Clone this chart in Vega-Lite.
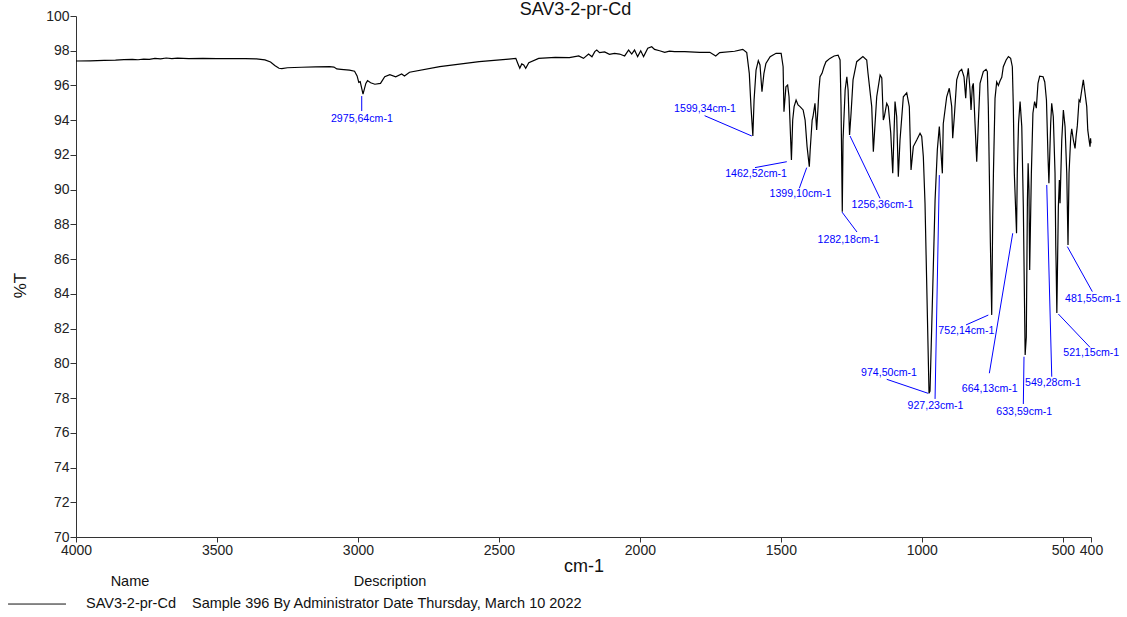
{
  "$schema": "https://vega.github.io/schema/vega-lite/v6.json",
  "width": 1015,
  "height": 521,
  "autosize": {"type": "none"},
  "padding": {"left": 76, "top": 16, "right": 36, "bottom": 80},
  "background": "white",
  "config": {
    "view": {"stroke": null},
    "font": "Liberation Sans",
    "axis": {"grid": false, "domainColor": "#333", "tickColor": "#333", "labelColor": "#222", "titleColor": "#111", "labelFont": "Liberation Sans", "titleFont": "Liberation Sans", "titleFontWeight": "normal", "labelFlush": false, "labelOverlap": false, "labelSeparation": 0},
    "axisX": {"format": "d", "labelFontSize": 14, "titleFontSize": 18, "tickSize": 5, "labelPadding": 1, "titlePadding": 0},
    "axisY": {"format": "d", "labelFontSize": 14, "titleFontSize": 17, "tickSize": 6, "labelPadding": 1, "titleX": -56, "titleY": 269, "titleBaseline": "middle", "titleAngle": -90}
  },
  "title": {"text": "SAV3-2-pr-Cd", "frame": "group", "anchor": "middle", "dx": -8, "dy": 25, "fontSize": 18, "fontWeight": "normal", "font": "Liberation Sans", "color": "#111", "offset": 1, "baseline": "alphabetic"},
  "datasets": {
    "spectrum": [
      {"wn":4000,"t":97.41},{"wn":3950,"t":97.42},{"wn":3900,"t":97.44},{"wn":3860,"t":97.46},{"wn":3830,"t":97.49},{"wn":3800,"t":97.5},{"wn":3780,"t":97.48},{"wn":3760,"t":97.52},{"wn":3740,"t":97.5},{"wn":3720,"t":97.56},{"wn":3700,"t":97.53},{"wn":3680,"t":97.58},{"wn":3660,"t":97.55},{"wn":3640,"t":97.57},{"wn":3600,"t":97.55},{"wn":3550,"t":97.56},{"wn":3500,"t":97.55},{"wn":3450,"t":97.55},{"wn":3400,"t":97.54},{"wn":3360,"t":97.53},{"wn":3330,"t":97.47},{"wn":3310,"t":97.35},{"wn":3295,"t":97.15},{"wn":3280,"t":96.99},{"wn":3270,"t":96.97},{"wn":3250,"t":97.02},{"wn":3200,"t":97.05},{"wn":3150,"t":97.07},{"wn":3100,"t":97.08},{"wn":3085,"t":97.06},{"wn":3075,"t":96.95},{"wn":3060,"t":96.93},{"wn":3030,"t":96.88},{"wn":3012,"t":96.82},{"wn":3003,"t":96.55},{"wn":2997,"t":96.18},{"wn":2992,"t":96.22},{"wn":2982,"t":95.5},{"wn":2972,"t":96.12},{"wn":2966,"t":96.28},{"wn":2955,"t":96.16},{"wn":2940,"t":96.07},{"wn":2920,"t":96.12},{"wn":2905,"t":96.5},{"wn":2887,"t":96.62},{"wn":2866,"t":96.5},{"wn":2845,"t":96.66},{"wn":2835,"t":96.55},{"wn":2817,"t":96.76},{"wn":2710,"t":97.08},{"wn":2570,"t":97.37},{"wn":2465,"t":97.52},{"wn":2440,"t":97.56},{"wn":2433,"t":97.27},{"wn":2426,"t":96.99},{"wn":2419,"t":97.24},{"wn":2412,"t":97.18},{"wn":2405,"t":96.99},{"wn":2394,"t":97.31},{"wn":2359,"t":97.56},{"wn":2300,"t":97.62},{"wn":2250,"t":97.6},{"wn":2217,"t":97.7},{"wn":2200,"t":97.56},{"wn":2182,"t":97.81},{"wn":2170,"t":97.65},{"wn":2160,"t":97.95},{"wn":2153,"t":98.04},{"wn":2143,"t":97.89},{"wn":2125,"t":97.93},{"wn":2108,"t":97.79},{"wn":2090,"t":97.85},{"wn":2072,"t":97.81},{"wn":2054,"t":97.7},{"wn":2040,"t":98.04},{"wn":2029,"t":97.81},{"wn":2019,"t":98.04},{"wn":2008,"t":97.66},{"wn":1997,"t":98.0},{"wn":1987,"t":97.66},{"wn":1972,"t":98.14},{"wn":1958,"t":98.23},{"wn":1948,"t":98.08},{"wn":1930,"t":98.0},{"wn":1912,"t":97.91},{"wn":1895,"t":97.98},{"wn":1877,"t":97.95},{"wn":1841,"t":97.95},{"wn":1788,"t":97.91},{"wn":1752,"t":97.91},{"wn":1731,"t":97.7},{"wn":1717,"t":97.89},{"wn":1664,"t":97.97},{"wn":1635,"t":98.08},{"wn":1621,"t":97.89},{"wn":1612,"t":96.7},{"wn":1606,"t":94.78},{"wn":1599.34,"t":93.09},{"wn":1595,"t":95.16},{"wn":1588,"t":96.89},{"wn":1580,"t":97.43},{"wn":1574,"t":97.18},{"wn":1567,"t":95.64},{"wn":1560,"t":96.7},{"wn":1553,"t":97.27},{"wn":1538,"t":97.66},{"wn":1517,"t":97.85},{"wn":1499,"t":97.85},{"wn":1492,"t":97.08},{"wn":1489,"t":94.49},{"wn":1482,"t":95.93},{"wn":1476,"t":96.03},{"wn":1471,"t":95.35},{"wn":1462.52,"t":91.71},{"wn":1458,"t":94.01},{"wn":1453,"t":94.78},{"wn":1446,"t":95.16},{"wn":1439,"t":94.88},{"wn":1432,"t":94.78},{"wn":1421,"t":94.59},{"wn":1414,"t":94.01},{"wn":1407,"t":92.48},{"wn":1399.1,"t":91.32},{"wn":1396,"t":92.28},{"wn":1389,"t":94.01},{"wn":1386,"t":94.2},{"wn":1379,"t":94.97},{"wn":1373,"t":93.44},{"wn":1368,"t":94.78},{"wn":1365,"t":95.74},{"wn":1361,"t":96.5},{"wn":1354,"t":96.7},{"wn":1347,"t":97.08},{"wn":1340,"t":97.37},{"wn":1326,"t":97.56},{"wn":1311,"t":97.7},{"wn":1297,"t":97.75},{"wn":1290,"t":97.47},{"wn":1286.5,"t":94.78},{"wn":1282.18,"t":88.73},{"wn":1279.5,"t":92.86},{"wn":1272,"t":95.74},{"wn":1266,"t":96.5},{"wn":1261.5,"t":95.74},{"wn":1256.36,"t":93.15},{"wn":1251,"t":94.4},{"wn":1244,"t":96.32},{"wn":1231,"t":97.37},{"wn":1209,"t":97.66},{"wn":1195.5,"t":97.47},{"wn":1191,"t":96.72},{"wn":1177.7,"t":94.78},{"wn":1172,"t":92.19},{"wn":1160,"t":95.35},{"wn":1148,"t":96.6},{"wn":1142,"t":96.43},{"wn":1136.6,"t":94.01},{"wn":1133,"t":94.2},{"wn":1124.5,"t":94.97},{"wn":1118.8,"t":94.78},{"wn":1110.3,"t":93.27},{"wn":1103.2,"t":90.94},{"wn":1095.1,"t":95.07},{"wn":1089.1,"t":94.2},{"wn":1083.4,"t":90.75},{"wn":1077.4,"t":92.86},{"wn":1065.6,"t":95.35},{"wn":1053.6,"t":95.58},{"wn":1044.4,"t":94.78},{"wn":1038.3,"t":91.13},{"wn":1030.2,"t":92.48},{"wn":1018.1,"t":92.86},{"wn":1006.4,"t":93.25},{"wn":1000.4,"t":93.06},{"wn":994.7,"t":91.91},{"wn":988.7,"t":89.2},{"wn":974.5,"t":78.28},{"wn":971,"t":78.4},{"wn":953,"t":89.4},{"wn":945,"t":92.3},{"wn":938,"t":93.63},{"wn":927.23,"t":90.94},{"wn":924,"t":93.8},{"wn":911.8,"t":95.35},{"wn":902.6,"t":95.84},{"wn":894,"t":94.78},{"wn":890.5,"t":92.96},{"wn":884.8,"t":94.2},{"wn":876.3,"t":96.32},{"wn":867.1,"t":96.8},{"wn":858.6,"t":96.93},{"wn":850.4,"t":96.5},{"wn":844.4,"t":95.26},{"wn":840.8,"t":96.32},{"wn":835.1,"t":96.99},{"wn":829.1,"t":95.74},{"wn":825.5,"t":94.59},{"wn":820.9,"t":95.93},{"wn":817.4,"t":96.12},{"wn":811.4,"t":93.82},{"wn":805.3,"t":91.61},{"wn":799.7,"t":93.82},{"wn":793.6,"t":96.12},{"wn":781.9,"t":96.8},{"wn":772.3,"t":96.93},{"wn":767.7,"t":96.8},{"wn":764.2,"t":94.78},{"wn":760.6,"t":90.94},{"wn":757,"t":87.0},{"wn":752.14,"t":82.79},{"wn":748.5,"t":88.5},{"wn":746,"t":91.0},{"wn":740.4,"t":95.26},{"wn":734.5,"t":96.2},{"wn":728.5,"t":96.0},{"wn":722.5,"t":96.27},{"wn":716.5,"t":96.47},{"wn":711,"t":97.08},{"wn":701,"t":97.47},{"wn":693,"t":97.66},{"wn":685,"t":97.56},{"wn":679,"t":97.08},{"wn":675.5,"t":94.78},{"wn":672,"t":90.94},{"wn":664.13,"t":87.49},{"wn":661.5,"t":90.94},{"wn":657,"t":93.82},{"wn":651.5,"t":95.07},{"wn":645.5,"t":93.63},{"wn":640,"t":89.0},{"wn":633.59,"t":80.48},{"wn":629.5,"t":81.5},{"wn":625.5,"t":89.4},{"wn":623,"t":91.52},{"wn":620,"t":89.98},{"wn":617.5,"t":85.38},{"wn":611.5,"t":90.94},{"wn":606,"t":94.4},{"wn":600,"t":95.07},{"wn":594,"t":94.69},{"wn":588,"t":96.12},{"wn":582,"t":96.54},{"wn":570,"t":96.5},{"wn":564,"t":96.2},{"wn":558,"t":95.16},{"wn":552.5,"t":91.9},{"wn":549.28,"t":90.37},{"wn":543,"t":93.82},{"wn":539.4,"t":94.97},{"wn":533.7,"t":94.2},{"wn":527.6,"t":90.94},{"wn":525,"t":86.8},{"wn":523.5,"t":85.5},{"wn":521.15,"t":82.9},{"wn":515.8,"t":89.0},{"wn":512.2,"t":90.56},{"wn":509.8,"t":89.22},{"wn":503.7,"t":92.86},{"wn":498,"t":94.59},{"wn":492,"t":93.63},{"wn":486,"t":90.94},{"wn":481.55,"t":86.82},{"wn":477.9,"t":90.94},{"wn":471.9,"t":93.04},{"wn":468.3,"t":93.5},{"wn":462.6,"t":92.86},{"wn":456.6,"t":92.38},{"wn":453,"t":93.04},{"wn":448.4,"t":93.7},{"wn":442.4,"t":95.16},{"wn":438.8,"t":95.07},{"wn":432.8,"t":95.74},{"wn":427.2,"t":96.32},{"wn":421.1,"t":95.55},{"wn":415.1,"t":94.78},{"wn":411.5,"t":93.44},{"wn":406.9,"t":92.86},{"wn":403.4,"t":92.48},{"wn":401.5,"t":92.96},{"wn":400.2,"t":92.67}
    ],
    "peaks": [
      {"label":"2975,64cm-1","tx":2986,"ty":94.07,"sx":2986.6,"sy":94.53,"ex":2986.6,"ey":95.39},
      {"label":"1599,34cm-1","tx":1769,"ty":94.63,"sx":1770.5,"sy":94.26,"ex":1603,"ey":93.09},
      {"label":"1462,52cm-1","tx":1588,"ty":90.88,"sx":1591.8,"sy":91.27,"ex":1479,"ey":91.61},
      {"label":"1399,10cm-1","tx":1430.3,"ty":89.73,"sx":1434.5,"sy":90.08,"ex":1408.3,"ey":91.27},
      {"label":"1256,36cm-1","tx":1139.4,"ty":89.12,"sx":1148.3,"sy":89.5,"ex":1254.7,"ey":93.09},
      {"label":"1282,18cm-1","tx":1260,"ty":87.1,"sx":1229.9,"sy":87.56,"ex":1283.1,"ey":88.71},
      {"label":"974,50cm-1","tx":1116.4,"ty":79.43,"sx":1124.5,"sy":79.08,"ex":977,"ey":78.27},
      {"label":"927,23cm-1","tx":951.4,"ty":77.56,"sx":953.1,"sy":77.95,"ex":937.9,"ey":90.84},
      {"label":"752,14cm-1","tx":842.2,"ty":81.86,"sx":843.3,"sy":82.21,"ex":764.2,"ey":82.78},
      {"label":"664,13cm-1","tx":759.2,"ty":78.5,"sx":760.6,"sy":79.43,"ex":677.6,"ey":87.49},
      {"label":"633,59cm-1","tx":636.8,"ty":77.22,"sx":640,"sy":77.66,"ex":637.6,"ey":80.38},
      {"label":"549,28cm-1","tx":534.7,"ty":78.85,"sx":539.2,"sy":79.23,"ex":557,"ey":90.27},
      {"label":"521,15cm-1","tx":399.2,"ty":80.58,"sx":403.4,"sy":80.92,"ex":515.8,"ey":82.84},
      {"label":"481,55cm-1","tx":392.8,"ty":83.7,"sx":395.3,"sy":84.13,"ex":483.9,"ey":86.72}
    ],
    "footer": [
      {"text":"Name","x":3808.5,"y":67.4,"align":"center"},
      {"text":"Description","x":2886.3,"y":67.4,"align":"center"},
      {"text":"SAV3-2-pr-Cd","x":3805,"y":66.14,"align":"center"},
      {"text":"Sample 396 By Administrator Date Thursday, March 10 2022","x":3588.6,"y":66.14,"align":"left"}
    ],
    "swatch": [
      {"x":4241,"x2":4035.5,"y":66.14}
    ]
  },
  "layer": [
    {
      "data": {"name": "spectrum"},
      "mark": {"type": "line", "color": "#000", "strokeWidth": 1.2, "clip": false},
      "encoding": {
        "x": {"field": "wn", "type": "quantitative", "title": "cm-1", "scale": {"domain": [400, 4000], "reverse": true, "nice": false, "zero": false},
          "axis": {"values": [4000, 3500, 3000, 2500, 2000, 1500, 1000, 500, 400], "format": "d", "labelOverlap": false}},
        "y": {"field": "t", "type": "quantitative", "title": "%T", "scale": {"domain": [70, 100], "nice": false, "zero": false}}
      }
    },
    {
      "data": {"name": "peaks"},
      "mark": {"type": "rule", "color": "#0000ff", "strokeWidth": 1},
      "encoding": {
        "x": {"field": "sx", "type": "quantitative", "title": "cm-1"},
        "y": {"field": "sy", "type": "quantitative", "title": "%T"},
        "x2": {"field": "ex"},
        "y2": {"field": "ey"}
      }
    },
    {
      "data": {"name": "peaks"},
      "mark": {"type": "text", "color": "#0000ff", "fontSize": 10.6, "font": "Liberation Sans", "align": "center", "baseline": "middle"},
      "encoding": {
        "x": {"field": "tx", "type": "quantitative", "title": "cm-1"},
        "y": {"field": "ty", "type": "quantitative", "title": "%T"},
        "text": {"field": "label"}
      }
    },
    {
      "data": {"name": "footer"},
      "transform": [{"filter": "datum.align === 'center'"}],
      "mark": {"type": "text", "color": "#111", "fontSize": 14.5, "font": "Liberation Sans", "align": "center", "baseline": "middle"},
      "encoding": {
        "x": {"field": "x", "type": "quantitative", "title": "cm-1"},
        "y": {"field": "y", "type": "quantitative", "title": "%T"},
        "text": {"field": "text"}
      }
    },
    {
      "data": {"name": "footer"},
      "transform": [{"filter": "datum.align === 'left'"}],
      "mark": {"type": "text", "color": "#111", "fontSize": 14.5, "font": "Liberation Sans", "align": "left", "baseline": "middle"},
      "encoding": {
        "x": {"field": "x", "type": "quantitative", "title": "cm-1"},
        "y": {"field": "y", "type": "quantitative", "title": "%T"},
        "text": {"field": "text"}
      }
    },
    {
      "data": {"name": "swatch"},
      "mark": {"type": "rule", "color": "#111", "strokeWidth": 1},
      "encoding": {
        "x": {"field": "x", "type": "quantitative", "title": "cm-1"},
        "x2": {"field": "x2"},
        "y": {"field": "y", "type": "quantitative", "title": "%T"}
      }
    }
  ]
}
